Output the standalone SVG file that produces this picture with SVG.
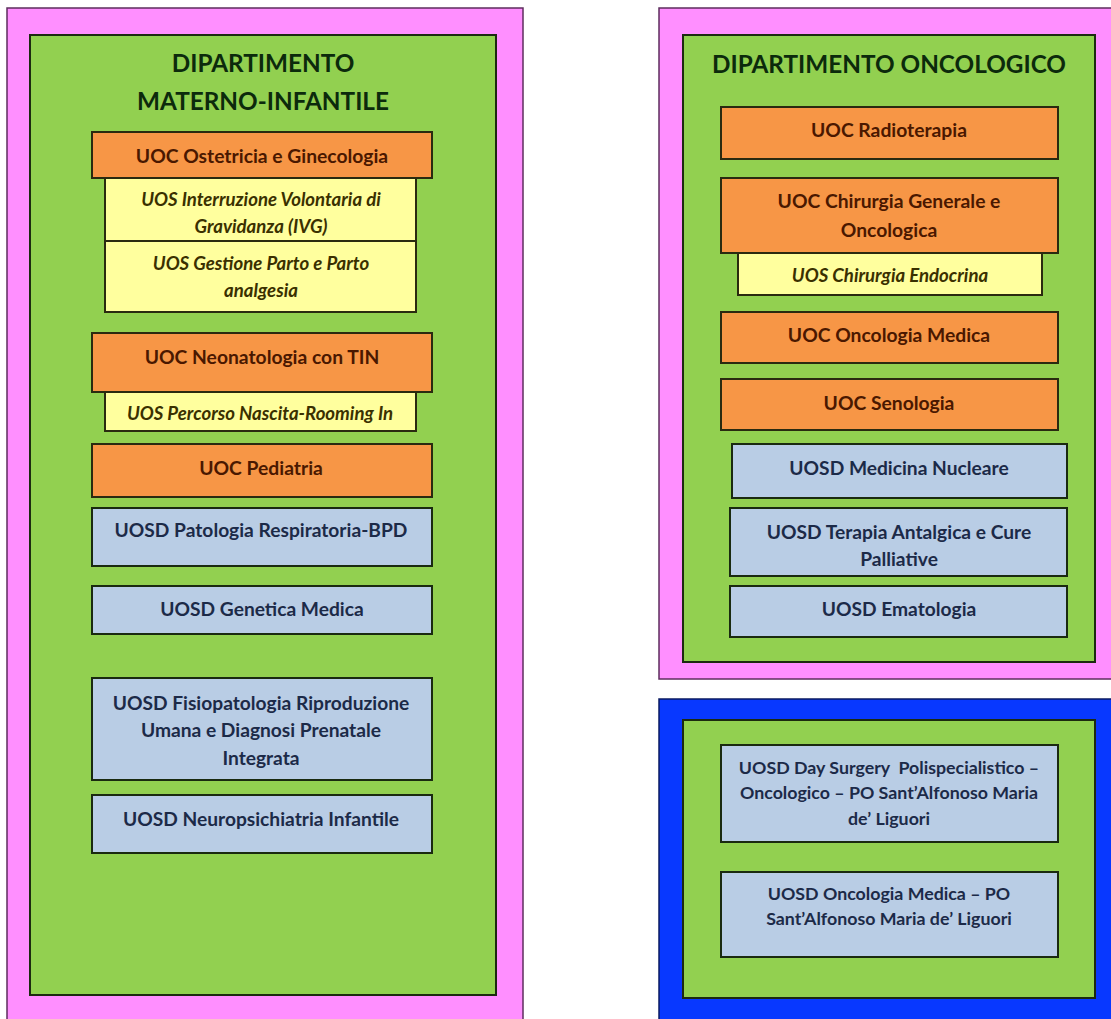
<svg xmlns="http://www.w3.org/2000/svg" width="1111" height="1019" viewBox="0 0 1111 1019">
<style>
text{font-family:Lato,"Liberation Sans",sans-serif;font-weight:bold;text-anchor:middle;dominant-baseline:central}
.pink{fill:#FF8FFF;stroke:#5e2e5e;stroke-width:1.5}
.blue{fill:#0838FF;stroke:#0a1a60;stroke-width:1.5}
.dep{fill:#92D050;stroke:#1c2a10;stroke-width:2}
.uoc{fill:#F79646;stroke:#2a2a10;stroke-width:2}
.uos{fill:#FFFF9E;stroke:#2a2a10;stroke-width:2}
.uosd{fill:#B9CDE5;stroke:#1a2a10;stroke-width:2}
.t{font-size:24.3px;fill:#0c2a0c}
.tc{font-size:19.3px;fill:#4a1800}
.ts{font-size:18.6px;font-style:italic;fill:#3a3000}
.td{font-size:19.2px;fill:#1c2a48}
.tp{font-size:17.8px;fill:#1c2a48}
</style>
<rect width="1111" height="1019" fill="#ffffff"/>
<g id="materno">
<rect class="pink" x="7" y="8" width="516" height="1020"/>
<rect class="dep" x="30" y="35" width="466" height="960"/>
<text class="t" x="263" y="62">DIPARTIMENTO</text>
<text class="t" x="263" y="100">MATERNO-INFANTILE</text>
</g>
<g id="uoc-ostetricia"><rect class="uoc" x="92" y="132" width="340" height="46"/><text class="tc" x="262" y="155">UOC Ostetricia e Ginecologia</text></g>
<g id="uos-ivg"><rect class="uos" x="105" y="178" width="311" height="63"/><text class="ts" x="261" y="199">UOS Interruzione Volontaria di</text><text class="ts" x="261" y="226">Gravidanza (IVG)</text></g>
<g id="uos-parto"><rect class="uos" x="105" y="241" width="311" height="71"/><text class="ts" x="261" y="263">UOS Gestione Parto e Parto</text><text class="ts" x="261" y="290">analgesia</text></g>
<g id="uoc-neonatologia"><rect class="uoc" x="92" y="333" width="340" height="59"/><text class="tc" x="262" y="356">UOC Neonatologia con TIN</text></g>
<g id="uos-nascita"><rect class="uos" x="105" y="392" width="311" height="39"/><text class="ts" x="260" y="413">UOS Percorso Nascita-Rooming In</text></g>
<g id="uoc-pediatria"><rect class="uoc" x="92" y="444" width="340" height="53"/><text class="tc" x="261" y="467">UOC Pediatria</text></g>
<g id="uosd-patologia"><rect class="uosd" x="92" y="508" width="340" height="58"/><text class="td" x="261" y="529">UOSD Patologia Respiratoria-BPD</text></g>
<g id="uosd-genetica"><rect class="uosd" x="92" y="586" width="340" height="48"/><text class="td" x="262" y="608">UOSD Genetica Medica</text></g>
<g id="uosd-fisiopatologia"><rect class="uosd" x="92" y="678" width="340" height="102"/><text class="td" x="261" y="702">UOSD Fisiopatologia Riproduzione</text><text class="td" x="261" y="729">Umana e Diagnosi Prenatale</text><text class="td" x="261" y="757">Integrata</text></g>
<g id="uosd-neuropsichiatria"><rect class="uosd" x="92" y="795" width="340" height="58"/><text class="td" x="261" y="818">UOSD Neuropsichiatria Infantile</text></g>

<g id="oncologico">
<rect class="pink" x="659" y="8" width="460" height="671"/>
<rect class="dep" x="683" y="35" width="412" height="627"/>
<text class="t" x="889" y="63">DIPARTIMENTO ONCOLOGICO</text>
</g>
<g id="uoc-radioterapia"><rect class="uoc" x="721" y="107" width="337" height="52"/><text class="tc" x="889" y="129">UOC Radioterapia</text></g>
<g id="uoc-chirurgia"><rect class="uoc" x="721" y="178" width="337" height="75"/><text class="tc" x="889" y="200">UOC Chirurgia Generale e</text><text class="tc" x="889" y="229">Oncologica</text></g>
<g id="uos-endocrina"><rect class="uos" x="738" y="253" width="304" height="42"/><text class="ts" x="890" y="275">UOS Chirurgia Endocrina</text></g>
<g id="uoc-oncologia"><rect class="uoc" x="721" y="312" width="337" height="51"/><text class="tc" x="889" y="334">UOC Oncologia Medica</text></g>
<g id="uoc-senologia"><rect class="uoc" x="721" y="379" width="337" height="51"/><text class="tc" x="889" y="402">UOC Senologia</text></g>
<g id="uosd-nucleare"><rect class="uosd" x="732" y="444" width="335" height="54"/><text class="td" x="899" y="467">UOSD Medicina Nucleare</text></g>
<g id="uosd-terapia"><rect class="uosd" x="730" y="508" width="337" height="68"/><text class="td" x="899" y="531">UOSD Terapia Antalgica e Cure</text><text class="td" x="899" y="558">Palliative</text></g>
<g id="uosd-ematologia"><rect class="uosd" x="730" y="586" width="337" height="51"/><text class="td" x="899" y="608">UOSD Ematologia</text></g>

<g id="presidio">
<rect class="blue" x="659" y="699" width="460" height="330"/>
<rect class="dep" x="683" y="720" width="412" height="278"/>
</g>
<g id="uosd-day-surgery"><rect class="uosd" x="721" y="745" width="337" height="97"/><text class="tp" x="889" y="767" style="white-space:pre">UOSD Day Surgery  Polispecialistico –</text><text class="tp" x="889" y="792">Oncologico – PO Sant’Alfonoso Maria</text><text class="tp" x="889" y="818">de’ Liguori</text></g>
<g id="uosd-oncologia-po"><rect class="uosd" x="721" y="872" width="337" height="85"/><text class="tp" x="889" y="893">UOSD Oncologia Medica – PO</text><text class="tp" x="889" y="918">Sant’Alfonoso Maria de’ Liguori</text></g>
<g id="connectors"></g>
</svg>
